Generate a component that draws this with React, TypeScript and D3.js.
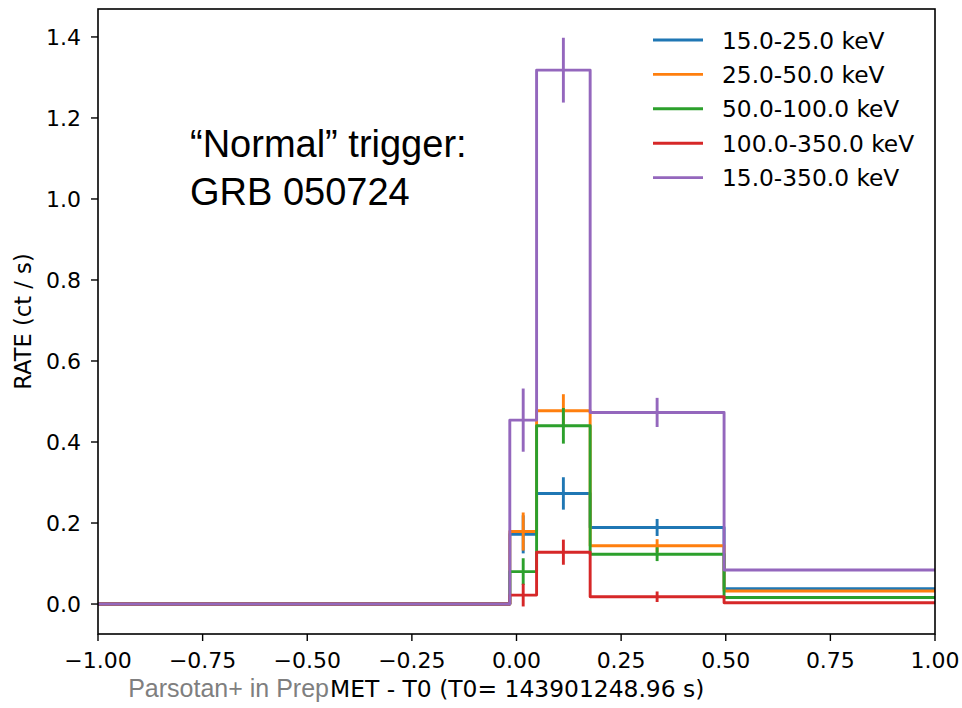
import React from 'react';
import * as d3 from 'd3';

const W = 962;
const H = 708;

// bin edges in seconds (outer bins run past the visible range)
const edges = [-2.0, -0.016, 0.048, 0.176, 0.496, 2.0];

const bands = ['15.0-25.0 keV', '25.0-50.0 keV', '50.0-100.0 keV', '100.0-350.0 keV', '15.0-350.0 keV'];
const colors = ['#1f77b4', '#ff7f0e', '#2ca02c', '#d62728', '#9467bd'];

const rate15_25 = [0, 0.172, 0.273, 0.189, 0.038];
const rate25_50 = [0, 0.179, 0.477, 0.144, 0.032];
const rate50_100 = [0, 0.080, 0.440, 0.123, 0.016];
const rate100_350 = [0, 0.022, 0.128, 0.018, 0.003];
const rate15_350 = [0, 0.454, 1.318, 0.473, 0.084];

const err15_25 = [0, 0.047, 0.040, 0.021, 0.010];
const err25_50 = [0, 0.047, 0.041, 0.016, 0.010];
const err50_100 = [0, 0.033, 0.044, 0.017, 0.008];
const err100_350 = [0, 0.028, 0.031, 0.013, 0.006];
const err15_350 = [0, 0.078, 0.080, 0.036, 0.016];

const rates = [rate15_25, rate25_50, rate50_100, rate100_350, rate15_350];
const errs = [err15_25, err25_50, err50_100, err100_350, err15_350];

const xTicks = [-1.0, -0.75, -0.5, -0.25, 0, 0.25, 0.5, 0.75, 1.0];
const yTicks = [0, 0.2, 0.4, 0.6, 0.8, 1.0, 1.2, 1.4];

const margin = { left: 98, right: 27, top: 9, bottom: 74 };

export default function App() {
  const x = d3.scaleLinear().domain([-1, 1]).range([margin.left, W - margin.right]);
  const y = d3.scaleLinear().domain([-0.074, 1.469]).range([H - margin.bottom, margin.top]);

  const line = d3
    .line<[number, number]>()
    .x(d => x(d[0]))
    .y(d => y(d[1]))
    .curve(d3.curveStepAfter);

  const fmtX = (v: number) => d3.format('.2f')(v).replace('-', '\u2212');
  const fmtY = (v: number) => d3.format('.1f')(v);

  const x0 = margin.left;
  const x1 = W - margin.right;
  const y0 = H - margin.bottom;
  const y1 = margin.top;
  const tick = 7;
  const font = 'DejaVu Sans, sans-serif';

  return (
    <div style={{ position: 'fixed', left: 0, top: 0 }}>
      <svg width={W} height={H} style={{ display: 'block', background: '#fff' }}>
        <defs>
          <clipPath id="plot">
            <rect x={x0} y={y1} width={x1 - x0} height={y0 - y1} />
          </clipPath>
        </defs>

        <g clipPath="url(#plot)" fill="none" strokeWidth={2.9}>
          {rates.map((r, i) => {
            const pts: [number, number][] = edges.map((e, j) => [e, r[Math.min(j, r.length - 1)]]);
            return (
              <g key={bands[i]} stroke={colors[i]}>
                <path d={line(pts) || ''} strokeLinejoin="round" />
                {r.map((v, j) => {
                  const c = (edges[j] + edges[j + 1]) / 2;
                  const e = errs[i][j];
                  if (!e) return null;
                  return <line key={j} x1={x(c)} x2={x(c)} y1={y(v - e)} y2={y(v + e)} />;
                })}
              </g>
            );
          })}
        </g>

        {/* frame */}
        <rect x={x0} y={y1} width={x1 - x0} height={y0 - y1} fill="none" stroke="#000" strokeWidth={1.6} />

        {/* x axis */}
        {xTicks.map(t => (
          <g key={t}>
            <line x1={x(t)} x2={x(t)} y1={y0} y2={y0 + tick} stroke="#000" strokeWidth={1.4} />
            <text x={x(t)} y={y0 + 34} textAnchor="middle" fontFamily={font} fontSize={22} fill="#000">
              {fmtX(t)}
            </text>
          </g>
        ))}

        {/* y axis */}
        {yTicks.map(t => (
          <g key={t}>
            <line x1={x0 - tick} x2={x0} y1={y(t)} y2={y(t)} stroke="#000" strokeWidth={1.4} />
            <text x={x0 - 17} y={y(t) + 8} textAnchor="end" fontFamily={font} fontSize={22} fill="#000">
              {fmtY(t)}
            </text>
          </g>
        ))}

        <text
          transform={`translate(31,${(y0 + y1) / 2}) rotate(-90)`}
          textAnchor="middle"
          fontFamily={font}
          fontSize={22.6}
          fill="#000"
        >
          RATE (ct / s)
        </text>

        <text x={330} y={697} textAnchor="start" fontFamily={font} fontSize={23.4} fill="#000">
          MET - T0 (T0= 143901248.96 s)
        </text>
        <text x={329} y={697} textAnchor="end" fontFamily="Liberation Sans, Arial, sans-serif" fontSize={25} fill="#7f7f7f">
          Parsotan+ in Prep
        </text>

        {/* annotation */}
        <g fontFamily="Liberation Sans, Arial, sans-serif" fontSize={38} fill="#000">
          <text x={190} y={157}>“Normal” trigger:</text>
          <text x={190} y={205}>GRB 050724</text>
        </g>

        {/* legend */}
        {bands.map((b, i) => {
          const ly = 40 + i * 34.4;
          return (
            <g key={b}>
              <line x1={653} x2={703} y1={ly} y2={ly} stroke={colors[i]} strokeWidth={2.9} />
              <text x={722} y={ly + 8.5} fontFamily={font} fontSize={23.3} fill="#000">
                {b}
              </text>
            </g>
          );
        })}
      </svg>
    </div>
  );
}
